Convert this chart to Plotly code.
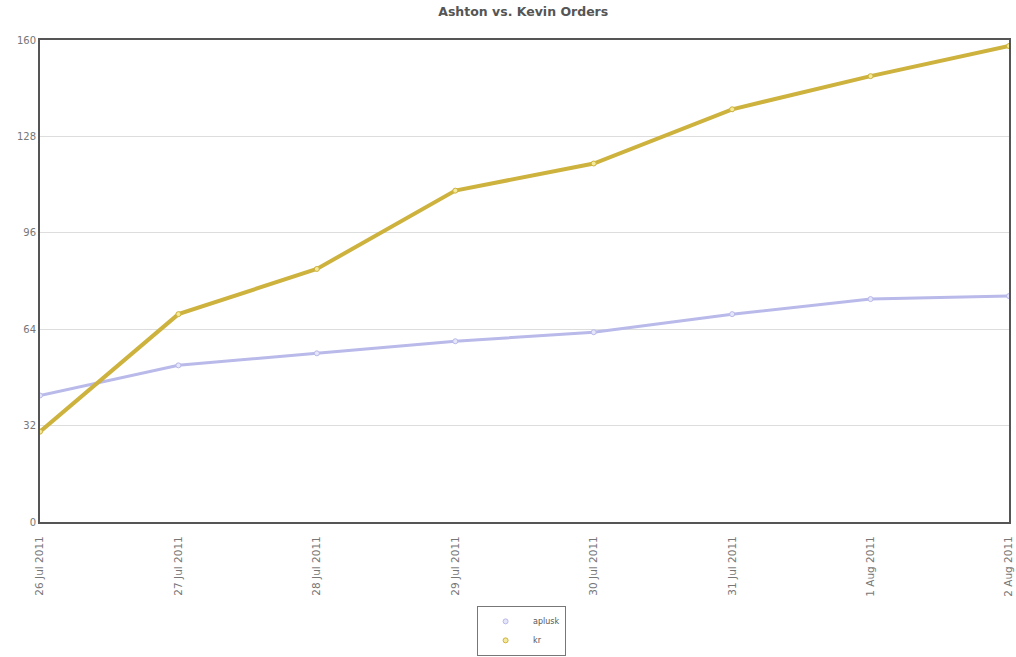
import plotly.graph_objects as go

# Daily order counts per account
dates = ["26 Jul 2011", "27 Jul 2011", "28 Jul 2011", "29 Jul 2011",
         "30 Jul 2011", "31 Jul 2011", "1 Aug 2011", "2 Aug 2011"]
aplusk = [42, 52, 56, 60, 63, 69, 74, 75]
kr = [30, 69, 84, 110, 119, 137, 148, 158]

y_ticks = [0, 32, 64, 96, 128, 160]

series = [
    ("aplusk", aplusk, "#b9b9ea", "#e6e6fa", 3),
    ("kr", kr, "#cdb23e", "#f4ea9a", 4),
]

fig = go.Figure()

# lines without legend entries; the marker traces carry the legend
for name, vals, col, fill, w in series:
    fig.add_trace(go.Scatter(
        x=dates, y=vals, name=name, mode="lines", legendgroup=name,
        showlegend=False, line=dict(color=col, width=w), hoverinfo="skip",
    ))
for name, vals, col, fill, w in series:
    fig.add_trace(go.Scatter(
        x=dates, y=vals, name=name, mode="markers", legendgroup=name,
        marker=dict(size=5, color=fill, line=dict(color=col, width=1)),
    ))

fig.update_layout(
    width=1016, height=657,
    paper_bgcolor="white", plot_bgcolor="white",
    margin=dict(l=40, r=7, t=40, b=135, autoexpand=False),
    font=dict(family="DejaVu Sans", color="#666666", size=9),
    title=dict(text="<b>Ashton vs. Kevin Orders</b>", x=0.515, xanchor="center",
               y=0.982, yanchor="middle",
               font=dict(size=12.5, color="#555555", family="DejaVu Sans")),
    showlegend=True,
    legend=dict(
        orientation="v", x=0.497, xanchor="center", y=-0.174, yanchor="top",
        bordercolor="#777777", borderwidth=1, bgcolor="white",
        font=dict(size=8, color="#555555"), itemwidth=45,
        tracegroupgap=0,
    ),
)

fig.update_xaxes(
    type="category", range=[0, len(dates) - 1], automargin=False,
    tickangle=-90, tickfont=dict(size=10.5, color="#777777"),
    showgrid=False, showline=True, mirror=True,
    linecolor="#555555", linewidth=2,
    ticks="outside", ticklen=8, tickcolor="white", zeroline=False,
)
fig.update_yaxes(
    range=[0, 160], tickvals=y_ticks, ticktext=[str(v) for v in y_ticks],
    tickfont=dict(size=10, color="#777777"), automargin=False,
    showgrid=True, gridcolor="#dddddd", gridwidth=1,
    showline=True, mirror=True, linecolor="#555555", linewidth=2,
    ticks="", zeroline=False,
)

fig.write_html("out.html")
